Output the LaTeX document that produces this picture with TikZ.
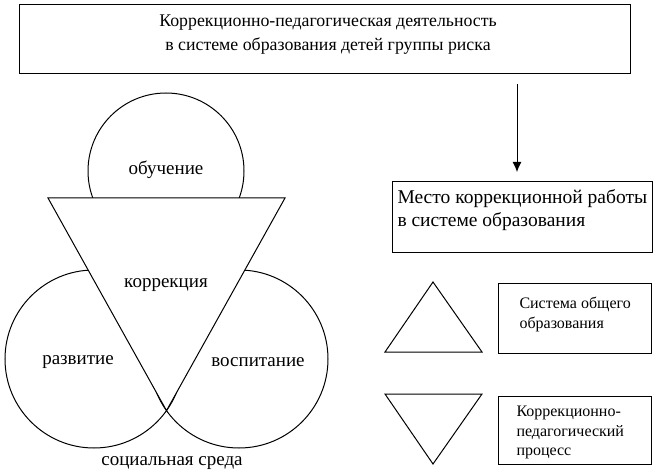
\documentclass[tikz,border=0pt]{standalone}
\usepackage{fontspec}
\setmainfont{Liberation Serif}
\usetikzlibrary{arrows.meta}
\begin{document}
\begin{tikzpicture}[x=1pt,y=-1pt, line width=1pt,
  box/.style={draw, rectangle, inner sep=0pt},
  big/.style={font=\fontsize{17.8}{24}\selectfont},
  place/.style={font=\fontsize{19.5}{23}\selectfont},
  lab/.style={font=\fontsize{19}{24}\selectfont},
  small/.style={font=\fontsize{16}{19.5}\selectfont},
  txt/.style={inner sep=0pt, align=left, anchor=north west}]
\useasboundingbox (0,0) rectangle (659,476);
% top box
\node[box, minimum width=611pt, minimum height=69pt] (top) at (324.5,39.5) {};
\node[inner sep=0pt, align=center, big] (topt) at (328,35)
  {Коррекционно-педагогическая деятельность\\в системе образования детей группы риска};
% place box
\node[box, minimum width=260pt, minimum height=70pt] (place) at (522,217) {};
\node[txt, place] (placet) at (397,189) {Место коррекционной работы\\в системе образования};
\draw[-{Latex[length=10pt,width=9pt]}] (top.south -| 517,0) ++(0,10) coordinate (a1) -- (517,172) coordinate (a2);
% general system box
\node[box, minimum width=153pt, minimum height=70pt] (gen) at (574.5,318) {};
\node[txt, small] (gent) at (519,297) {Система общего\\образования};
% correction process box
\node[box, minimum width=153pt, minimum height=68pt] (corr) at (574.5,430) {};
\node[txt, small] (corrt) at (516,406) {Коррекционно-\\педагогический\\процесс};
% small triangles
\draw (433,282) -- (482,352) -- (385,352) -- cycle;
\draw (385,394) -- (482,394) -- (433,464) -- cycle;
% left diagram
\draw (166,171) circle (78pt);
\draw (94,359) circle (89pt);
\draw (239,359) circle (89pt);
\draw[fill=white] (48,198) -- (285,198) -- (166.5,410.6) -- cycle;
\node[lab] (ob) at (166,170) {обучение};
\node[lab] (ko) at (166,285) {коррекция};
\node[lab] (ra) at (78,362) {развитие};
\node[lab] (vo) at (258,362) {воспитание};
\node[lab] (so) at (172,463) {социальная среда};
\end{tikzpicture}
\end{document}
